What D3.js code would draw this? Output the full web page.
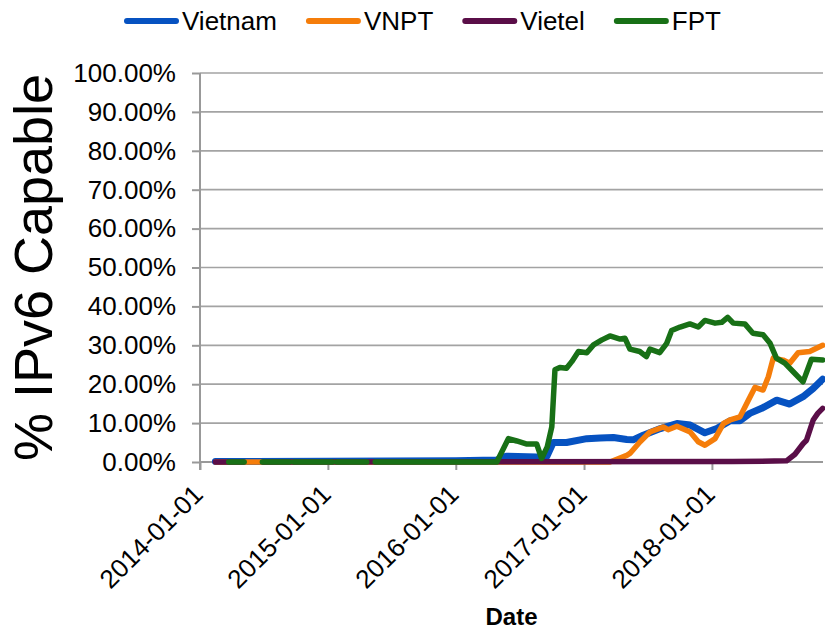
<!DOCTYPE html>
<html>
<head>
<meta charset="utf-8">
<script src="https://cdn.jsdelivr.net/npm/d3@7"></script>
<style>
  body { margin: 0; background: #fff; }
  text { font-family: "Liberation Sans", Arial, sans-serif; fill: #000; }
</style>
</head>
<body>
<div id="chart"></div>
<script>
// series names, same order as the legend
const seriesNames = ["Vietnam", "VNPT", "Vietel", "FPT"];
const seriesColors = ["#0652c1", "#f57d0a", "#5a0e48", "#187016"];

// x ticks and y ticks
const xTickLabels = ["2014-01-01", "2015-01-01", "2016-01-01", "2017-01-01", "2018-01-01"];
const yTickValues = [0, 10, 20, 30, 40, 50, 60, 70, 80, 90, 100];

// values (% capable); null = gap in the data
const vietnamData = [
  ["2014-02-14", 0.1], ["2015-01-01", 0.2], ["2016-01-01", 0.3], ["2016-04-27", 0.5],
  ["2016-05-24", 1.5], ["2016-08-19", 1.3], ["2016-09-03", 0.5], ["2016-09-17", 1.5],
  ["2016-10-05", 5.0], ["2016-11-12", 5.0], ["2017-01-09", 6.0], ["2017-02-16", 6.2],
  ["2017-03-26", 6.3], ["2017-05-03", 5.8], ["2017-05-21", 5.7], ["2017-06-19", 6.9],
  ["2017-08-07", 8.6], ["2017-09-23", 9.9], ["2017-10-31", 9.5], ["2017-12-12", 7.5],
  ["2018-01-15", 8.6], ["2018-02-22", 10.6], ["2018-03-22", 10.6], ["2018-04-19", 12.5],
  ["2018-05-23", 13.8], ["2018-07-05", 15.9], ["2018-08-11", 14.9], ["2018-09-18", 16.8],
  ["2018-10-17", 18.9], ["2018-11-13", 21.3]
];
const vnptData = [
  ["2014-02-15", 0], ["2017-03-16", 0], ["2017-05-03", 1.7], ["2017-05-12", 2.2],
  ["2017-06-10", 5.2], ["2017-07-08", 7.7], ["2017-08-15", 9.0], ["2017-08-29", 8.3],
  ["2017-09-23", 9.2], ["2017-10-31", 7.7], ["2017-11-23", 5.2], ["2017-12-12", 4.3],
  ["2018-01-10", 6.0], ["2018-02-03", 9.9], ["2018-02-22", 10.8], ["2018-03-22", 11.6],
  ["2018-04-15", 15.9], ["2018-05-04", 19.2], ["2018-05-27", 18.5], ["2018-06-11", 21.9],
  ["2018-06-25", 26.7], ["2018-07-23", 26.2], ["2018-08-11", 25.4], ["2018-09-04", 28.1],
  ["2018-10-07", 28.4], ["2018-11-13", 30.0]
];
const vietelData = [
  ["2014-02-14", 0], ["2014-05-05", 0], ["2014-05-20", null], ["2014-07-01", 0],
  ["2018-03-01", 0.1], ["2018-08-02", 0.3], ["2018-08-26", 2.0], ["2018-09-18", 4.7],
  ["2018-09-28", 5.6], ["2018-10-17", 10.8], ["2018-10-30", 12.5], ["2018-11-13", 13.8]
];
const fptData = [
  ["2014-03-24", 0], ["2014-05-07", 0], ["2014-05-20", null], ["2014-06-28", 0],
  ["2014-09-14", 0], ["2014-09-20", null], ["2014-09-26", 0], ["2015-01-14", 0],
  ["2015-01-20", null], ["2015-01-26", 0], ["2015-04-22", 0], ["2015-05-01", null],
  ["2015-05-16", 0], ["2016-04-27", 0], ["2016-05-30", 6.0], ["2016-06-23", 5.4],
  ["2016-07-22", 4.6], ["2016-08-19", 4.6], ["2016-09-02", 0.9], ["2016-09-18", 3.9],
  ["2016-10-01", 9.0], ["2016-10-10", 23.7], ["2016-10-24", 24.3], ["2016-11-12", 24.1],
  ["2016-11-27", 25.8], ["2016-12-16", 28.4], ["2017-01-09", 28.1], ["2017-01-28", 30.1],
  ["2017-02-21", 31.4], ["2017-03-16", 32.4], ["2017-04-14", 31.6], ["2017-04-28", 31.8],
  ["2017-05-12", 29.0], ["2017-06-09", 28.4], ["2017-06-28", 27.1], ["2017-07-08", 29.0],
  ["2017-08-05", 28.1], ["2017-08-25", 30.5], ["2017-09-08", 33.8], ["2017-10-02", 34.7],
  ["2017-10-30", 35.5], ["2017-11-23", 34.7], ["2017-12-12", 36.4], ["2018-01-10", 35.7],
  ["2018-01-29", 35.9], ["2018-02-15", 37.2], ["2018-03-03", 35.7], ["2018-04-05", 35.5],
  ["2018-04-28", 33.1], ["2018-05-27", 32.7], ["2018-06-16", 30.5], ["2018-07-04", 26.7],
  ["2018-07-28", 25.4], ["2018-08-21", 23.2], ["2018-09-18", 20.6], ["2018-10-12", 26.4],
  ["2018-11-13", 26.2]
];
const allSeries = [vietnamData, vnptData, vietelData, fptData];
const lineWidths = [7, 5.5, 5.5, 5.5];

const width = 825, height = 631;
const margin = { top: 73, right: 2, bottom: 169, left: 200 };
const parse = d3.timeParse("%Y-%m-%d");

const svg = d3.select("#chart").append("svg")
  .attr("width", width)
  .attr("height", height);

const x = d3.scaleTime()
  .domain([parse("2014-01-01"), parse("2018-11-14")])
  .range([margin.left, width - margin.right]);
const y = d3.scaleLinear()
  .domain([0, 100])
  .range([height - margin.bottom, margin.top]);

// grid lines
svg.append("g")
  .selectAll("line")
  .data(yTickValues.filter(v => v > 0))
  .enter().append("line")
  .attr("x1", margin.left).attr("x2", width - margin.right)
  .attr("y1", d => y(d)).attr("y2", d => y(d))
  .attr("stroke", "#a3a3a3").attr("stroke-width", 1.7);

// y axis
const yAxis = svg.append("g")
  .attr("transform", `translate(${margin.left},0)`)
  .call(d3.axisLeft(y).tickValues(yTickValues).tickSize(8).tickPadding(16)
    .tickFormat(d => d.toFixed(2) + "%"));
yAxis.select(".domain").remove();
yAxis.selectAll(".tick line").attr("stroke", "#999").attr("stroke-width", 2);
yAxis.selectAll("text").attr("font-size", 26).style("font-family", "Liberation Sans, Arial, sans-serif");
svg.append("line")
  .attr("x1", margin.left).attr("x2", margin.left)
  .attr("y1", margin.top).attr("y2", y(0) + 8)
  .attr("stroke", "#999").attr("stroke-width", 2);

// x axis
const xAxis = svg.append("g")
  .attr("transform", `translate(0,${y(0)})`)
  .call(d3.axisBottom(x).tickValues(xTickLabels.map(parse)).tickSize(8)
    .tickFormat(d3.timeFormat("%Y-%m-%d")));
xAxis.select(".domain").attr("stroke", "#999").attr("stroke-width", 2)
  .attr("d", `M${margin.left},0H${width - margin.right}`);
xAxis.selectAll(".tick line").attr("stroke", "#999").attr("stroke-width", 2);
xAxis.selectAll("text")
  .attr("font-size", 26)
  .style("font-family", "Liberation Sans, Arial, sans-serif")
  .attr("text-anchor", "end")
  .attr("dy", null)
  .attr("y", 0)
  .attr("transform", "translate(4,34) rotate(-45)");

// lines
const line = d3.line()
  .defined(d => d[1] !== null)
  .x(d => x(parse(d[0])))
  .y(d => y(d[1]));

svg.append("g")
  .selectAll("path")
  .data(allSeries)
  .enter().append("path")
  .attr("d", d => line(d))
  .attr("fill", "none")
  .attr("stroke", (d, i) => seriesColors[i])
  .attr("stroke-width", (d, i) => lineWidths[i])
  .attr("stroke-linecap", "round")
  .attr("stroke-linejoin", "round");

// axis titles
svg.append("text")
  .attr("transform", `translate(52,${(margin.top + y(0)) / 2}) rotate(-90)`)
  .attr("text-anchor", "middle")
  .attr("font-size", 54)
  .text("% IPv6 Capable");

svg.append("text")
  .attr("x", (margin.left + width - margin.right) / 2)
  .attr("y", 625)
  .attr("text-anchor", "middle")
  .attr("font-size", 24)
  .attr("font-weight", "bold")
  .text("Date");

// legend
const legend = svg.append("g");
let lx = 124;
seriesNames.forEach((name, i) => {
  legend.append("line")
    .attr("x1", lx + 3).attr("x2", lx + 52)
    .attr("y1", 21).attr("y2", 21)
    .attr("stroke", seriesColors[i])
    .attr("stroke-width", 6)
    .attr("stroke-linecap", "round");
  const t = legend.append("text")
    .attr("x", lx + 58)
    .attr("y", 30)
    .attr("font-size", 26)
    .text(name);
  lx += 58 + t.node().getComputedTextLength() + 29;
});
</script>
</body>
</html>
